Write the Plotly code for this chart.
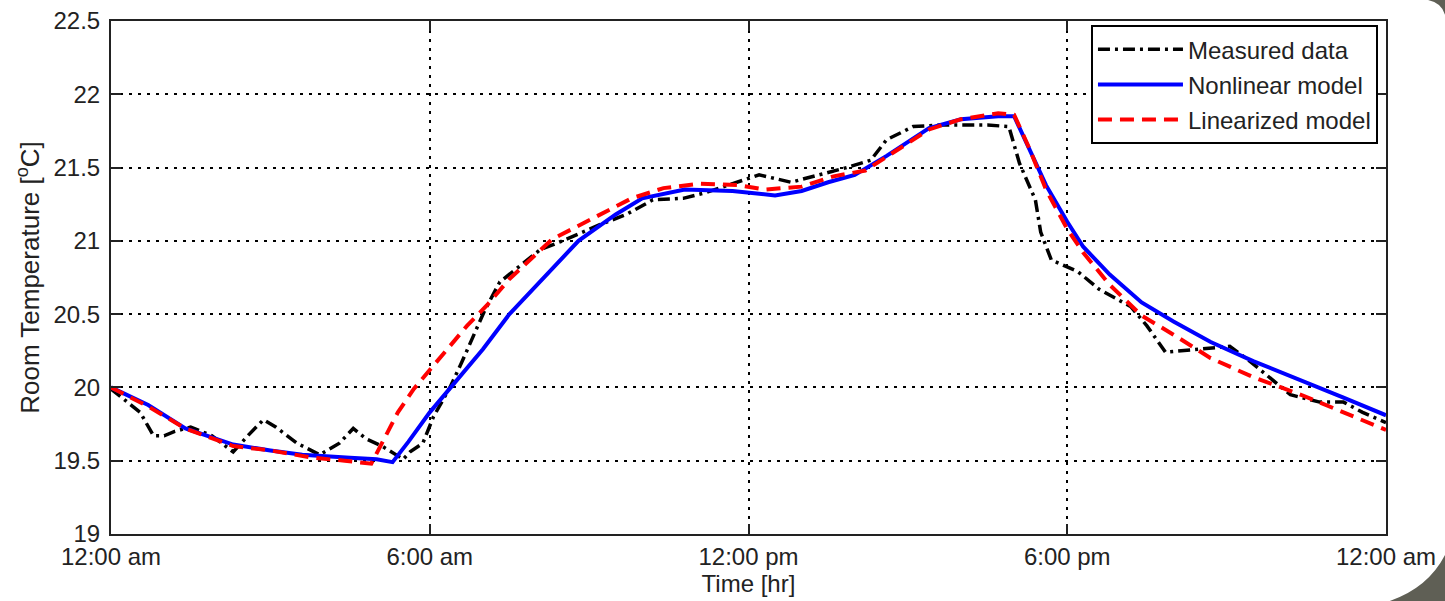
import plotly.graph_objects as go

# ---- data (hours since midnight, room temperature in degC) ----
meas_t = [0, 0.17, 0.55, 0.8, 1.0, 1.2, 1.5, 1.9, 2.3, 2.6, 2.87, 3.1, 3.5, 3.93, 4.3, 4.56,
          4.8, 5.1, 5.5, 5.63, 5.87, 6.07, 6.38, 6.6, 6.82, 7.04, 7.32, 7.7, 8.08, 8.5, 9.2,
          9.7, 10.2, 10.77, 11.2, 11.7, 12.2, 12.8, 13.35, 13.85, 14.3, 14.6, 15.1, 15.6,
          16.5, 16.9, 17.1, 17.4, 17.5, 17.7, 18.2, 18.6, 19.2, 19.5, 19.85, 20.4, 21.06,
          21.4, 21.8, 22.2, 22.75, 23.2, 23.56, 24.0]
meas_T = [19.99, 19.94, 19.83, 19.67, 19.67, 19.70, 19.73, 19.67, 19.56, 19.68, 19.78, 19.73,
          19.62, 19.54, 19.62, 19.72, 19.65, 19.60, 19.51, 19.56, 19.62, 19.80, 20.0, 20.17,
          20.35, 20.53, 20.72, 20.83, 20.94, 21.0, 21.11, 21.18, 21.28, 21.29, 21.33, 21.39,
          21.45, 21.40, 21.45, 21.50, 21.55, 21.69, 21.78, 21.79, 21.79, 21.78, 21.53, 21.28,
          21.06, 20.87, 20.79, 20.67, 20.55, 20.42, 20.24, 20.26, 20.28, 20.19, 20.07, 19.95,
          19.90, 19.90, 19.83, 19.76]

nonlin_t = [0, 0.7, 1.4, 2.3, 3.0, 3.6, 4.5, 5.0, 5.3, 5.6, 6.0, 6.4, 7.0, 7.5, 8.2, 8.8, 9.5,
            10.0, 10.8, 11.7, 12.5, 13.0, 13.5, 14.0, 14.6, 15.4, 16.0, 16.7, 17.0, 17.3, 17.6,
            18.0, 18.3, 18.8, 19.4, 20.0, 20.7, 21.5, 22.4, 23.2, 24.0]
nonlin_T = [20.0, 19.88, 19.72, 19.61, 19.57, 19.54, 19.52, 19.51, 19.49, 19.63, 19.83, 20.0,
            20.26, 20.5, 20.77, 21.0, 21.18, 21.29, 21.35, 21.34, 21.31, 21.34, 21.40, 21.45,
            21.58, 21.77, 21.83, 21.85, 21.85, 21.62, 21.38, 21.13, 20.96, 20.77, 20.58, 20.45,
            20.31, 20.18, 20.05, 19.93, 19.81]

lin_t = [0, 0.7, 1.4, 2.3, 3.0, 3.8, 4.4, 4.9, 5.1, 5.4, 5.7, 6.0, 6.4, 6.7, 7.1, 7.5, 8.3,
         9.0, 9.8, 10.4, 11.1, 11.8, 12.3, 13.0, 13.6, 14.2, 14.8, 15.4, 16.0, 16.7, 17.0,
         17.3, 17.6, 18.0, 18.3, 18.8, 19.4, 20.0, 20.7, 21.5, 22.4, 23.2, 24.0]
lin_T = [20.0, 19.87, 19.72, 19.60, 19.57, 19.52, 19.50, 19.48, 19.62, 19.83, 19.99, 20.12,
         20.29, 20.42, 20.57, 20.74, 21.01, 21.14, 21.29, 21.36, 21.39, 21.38, 21.35, 21.37,
         21.44, 21.48, 21.62, 21.76, 21.83, 21.87, 21.86, 21.62, 21.35, 21.08, 20.92, 20.70,
         20.49, 20.36, 20.2, 20.07, 19.95, 19.83, 19.71]

x_tickvals = [0, 6, 12, 18, 24]
x_ticktext = ["12:00 am", "6:00 am", "12:00 pm", "6:00 pm", "12:00 am"]
y_tickvals = [19, 19.5, 20, 20.5, 21, 21.5, 22, 22.5]
y_ticktext = ["19", "19.5", "20", "20.5", "21", "21.5", "22", "22.5"]

FONT = "Liberation Sans, Arial, sans-serif"
TXT = "#222"

fig = go.Figure()
fig.add_trace(go.Scatter(x=meas_t, y=meas_T, mode="lines", name="Measured data",
                         legendgroup="a",
                         line=dict(color="black", width=3.5, dash="12px,5px,3px,5px")))
fig.add_trace(go.Scatter(x=nonlin_t, y=nonlin_T, mode="lines", name="Nonlinear model",
                         legendgroup="b",
                         line=dict(color="#0000ff", width=4)))
fig.add_trace(go.Scatter(x=lin_t, y=lin_T, mode="lines", name="Linearized model",
                         legendgroup="c",
                         line=dict(color="#ff0000", width=4, dash="14px,8px")))

fig.update_layout(
    width=1445, height=601,
    margin=dict(l=111, r=59, t=21, b=67),
    paper_bgcolor="white", plot_bgcolor="white",
    font=dict(family=FONT, size=24, color=TXT),
    showlegend=True,
    legend=dict(x=0.9937, y=0.992, xanchor="right", yanchor="top",
                bgcolor="white", bordercolor="black", borderwidth=2,
                font=dict(family=FONT, size=24, color=TXT),
                itemwidth=85, tracegroupgap=1),
    shapes=[
        dict(type="path", xref="paper", yref="paper",
             path="M1.0463,-0.0410 Q1.0330,-0.105 1.0030,-0.1306 L1.0463,-0.1306 Z",
             fillcolor="#5f5f55", line=dict(width=0), layer="above"),
        dict(type="path", xref="paper", yref="paper",
             path="M1.0330,1.0409 Q1.0440,1.035 1.0463,1.0117 L1.0463,1.0409 Z",
             fillcolor="#5f5f55", line=dict(width=0), layer="above"),
    ],
)

fig.update_xaxes(
    range=[0, 24], tickvals=x_tickvals, ticktext=x_ticktext, automargin=False,
    showline=True, linecolor="#222", linewidth=2, mirror="ticks",
    ticks="inside", ticklen=10, tickwidth=2, tickcolor="#222",
    showgrid=True, gridcolor="black", gridwidth=1.5, griddash="3px,6px",
    zeroline=False,
    title=dict(text="Time [hr]", standoff=5, font=dict(size=24)),
    tickfont=dict(size=24),
)
fig.update_yaxes(
    range=[19, 22.5], tickvals=y_tickvals, ticktext=y_ticktext, automargin=False,
    showline=True, linecolor="#222", linewidth=2, mirror="ticks",
    ticks="inside", ticklen=10, tickwidth=2, tickcolor="#222",
    showgrid=True, gridcolor="black", gridwidth=1.5, griddash="3px,6px",
    zeroline=False, ticklabelstandoff=4,
    title=dict(text="Room Temperature [<sup>o</sup>C]", standoff=6, font=dict(size=26)),
    tickfont=dict(size=24),
)

fig.write_html("out.html")
